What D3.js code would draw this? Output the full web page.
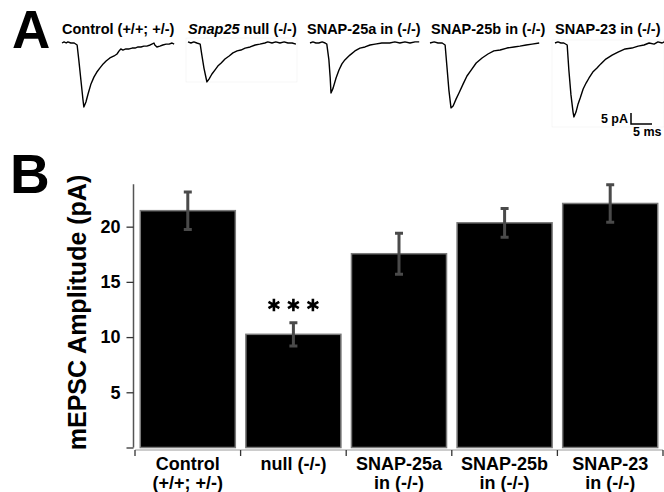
<!DOCTYPE html>
<html>
<head>
<meta charset="utf-8">
<script src="https://cdn.jsdelivr.net/npm/d3@7"></script>
<style>
  body { margin: 0; background: #fff; }
  text { font-family: "Liberation Sans", Arial, Helvetica, sans-serif; font-weight: bold; fill: #000; }
</style>
</head>
<body>
<script>
const width = 664;
const height = 492;

// panel B data
const categories = ["Control", "null", "SNAP-25a", "SNAP-25b", "SNAP-23"];
const categoryLabels = [["Control", "(+/+; +/-)"], ["null (-/-)"], ["SNAP-25a", "in (-/-)"], ["SNAP-25b", "in (-/-)"], ["SNAP-23", "in (-/-)"]];
const means = [21.45, 10.25, 17.55, 20.35, 22.1];
const errors = [1.7, 1.05, 1.85, 1.3, 1.7];
const yTicks = [0, 5, 10, 15, 20];

// panel A example traces, [time ms, current pA]
const traceTitles = ["Control (+/+; +/-)", "Snap25 null (-/-)", "SNAP-25a in (-/-)", "SNAP-25b in (-/-)", "SNAP-23 in (-/-)"];
const traceControl = [[0, 0], [0.5, 0.5], [1.0, 0], [1.4, 0.5], [2.1, 0], [2.9, 0], [3.6, -0.9], [4.0, -7.7], [4.5, -16.8], [5.0, -25.9], [5.2, -29.1], [5.7, -26.8], [6.2, -23.2], [6.9, -18.6], [7.6, -15.5], [8.3, -13.2], [9.0, -11.4], [9.8, -9.5], [10.5, -8.2], [11.4, -6.8], [12.4, -5.9], [13.1, -5.0], [13.6, -3.6], [14.0, -2.7], [14.5, -3.2], [15.2, -2.7], [16.0, -2.7], [16.7, -2.3], [17.4, -2.3], [18.1, -1.8], [18.8, -1.8], [19.5, -1.4], [20.2, -1.4], [21.0, -0.9], [21.4, -0.5], [21.9, 0], [22.1, -0.9], [22.6, -1.8], [23.3, -1.4], [24.0, -0.9], [24.8, -0.5], [25.5, -0.5], [26.2, 0], [26.7, -0.5]];
const traceNull = [[0, 0.5], [0.7, 0], [1.4, 0.5], [2.1, 0], [2.9, -0.5], [3.3, -5.5], [3.8, -11.4], [4.3, -15.9], [4.5, -17.7], [5.0, -16.4], [5.7, -14.1], [6.4, -12.3], [7.1, -10.5], [7.9, -9.1], [8.8, -7.3], [9.8, -5.9], [10.7, -4.5], [11.7, -3.6], [12.6, -3.2], [13.6, -2.3], [14.8, -1.8], [16.0, -0.9], [17.1, -0.5], [18.3, 0], [19.0, 0.5], [20.0, 0], [20.9, 0.5], [21.9, 0], [22.9, 0.5], [23.8, 0], [24.8, 0], [25.7, -0.5]];
const trace25a = [[0, 0], [0.7, 0.5], [1.4, 0], [2.1, 0], [2.9, 0.5], [3.6, 0], [4.0, -0.5], [4.5, -7.7], [4.8, -15.5], [5.0, -22.7], [5.5, -20.5], [6.2, -15.9], [6.9, -12.3], [7.6, -9.5], [8.3, -7.7], [9.5, -5.5], [10.7, -3.6], [11.9, -2.3], [13.1, -1.8], [14.3, -0.9], [15.5, -0.5], [17.1, 0], [19.0, 0], [20.2, 0.5], [21.4, 0], [22.6, 0.5], [23.8, 0], [25.0, 0.5], [26.0, 0.5]];
const trace25b = [[0, 0], [1.0, 0.5], [1.9, 0], [2.9, 0], [3.6, -0.9], [4.0, -10.0], [4.5, -21.4], [5.0, -29.5], [5.5, -28.6], [6.2, -25.5], [6.9, -22.7], [7.9, -18.6], [8.8, -15.0], [9.8, -12.3], [11.0, -9.1], [12.4, -6.8], [13.8, -5.0], [15.2, -3.6], [16.7, -3.2], [18.3, -2.3], [20.0, -1.8], [21.4, -1.4], [22.9, -0.9], [24.3, -0.5], [26.0, 0]];
const trace23 = [[0, 0], [0.7, 0.5], [1.4, 0], [2.1, 0], [2.9, -0.9], [3.3, -12.3], [3.8, -23.6], [4.3, -31.4], [4.5, -33.6], [5.0, -31.4], [5.5, -27.7], [6.0, -25.0], [6.7, -20.9], [7.4, -18.2], [8.1, -15.9], [9.0, -13.2], [10.0, -11.4], [10.9, -9.5], [12.1, -7.3], [13.6, -5.5], [15.0, -4.1], [16.7, -2.7], [18.3, -2.3], [19.8, -1.4], [21.2, -0.9], [22.4, 0], [23.6, -0.5], [24.5, 0.5], [25.5, 0], [26.0, 0.5]];
const traces = [traceControl, traceNull, trace25a, trace25b, trace23];

const traceLeft = [62, 188, 310, 430, 555];
const titleLeft = [62, 188, 307, 431, 555];
const traceBase = 43;

let svg = d3.select("body")
    .append("svg")
    .attr("width", width)
    .attr("height", height);

// ---------- panel A ----------
svg.append("text").attr("x", 12).attr("y", 48).attr("font-size", 53).text("A");

var tScale = d3.scaleLinear().domain([0, 1]).range([0, 4.2]);
var iScale = d3.scaleLinear().domain([0, -5]).range([0, 11]);

var traceLine = d3.line()
    .x(function(d) { return tScale(d[0]); })
    .y(function(d) { return iScale(d[1]); });

// very faint frames left around two of the traces
svg.append("rect").attr("x", 186).attr("y", 38).attr("width", 111).attr("height", 44)
    .attr("fill", "none").attr("stroke", "#f0f0f0").attr("stroke-width", 0.6);
svg.append("rect").attr("x", 552).attr("y", 40).attr("width", 112).attr("height", 87)
    .attr("fill", "none").attr("stroke", "#f0f0f0").attr("stroke-width", 0.6);

traces.forEach(function(tr, i) {
    svg.append("path")
        .attr("transform", "translate(" + traceLeft[i] + "," + traceBase + ")")
        .attr("d", traceLine(tr))
        .attr("fill", "none")
        .attr("stroke", "#000")
        .attr("stroke-width", 1.4)
        .attr("stroke-linejoin", "round");

    var t = svg.append("text")
        .attr("x", titleLeft[i])
        .attr("y", 34)
        .attr("font-size", 14.5);
    if (i == 1) {
        t.append("tspan").attr("font-style", "italic").text("Snap25");
        t.append("tspan").text(" null (-/-)");
    } else {
        t.text(traceTitles[i]);
    }
});

// scale bar 5 pA / 5 ms
var sbX = 631, sbY = 124;
svg.append("path")
    .attr("d", "M" + sbX + "," + (sbY - (iScale(-5))) + "V" + sbY + "H" + (sbX + tScale(5)))
    .attr("fill", "none").attr("stroke", "#000").attr("stroke-width", 1.5);
svg.append("text").attr("x", sbX - 3).attr("y", 123).attr("text-anchor", "end").attr("font-size", 12.5).text("5 pA");
svg.append("text").attr("x", 633).attr("y", 136).attr("font-size", 12.5).text("5 ms");

// ---------- panel B ----------
svg.append("text").attr("x", 10).attr("y", 193).attr("font-size", 55).text("B");

var xScale = d3.scaleBand()
    .domain(categories)
    .range([135, 663])
    .paddingInner(0.1)
    .paddingOuter(0.05);

var yScale = d3.scaleLinear()
    .domain([0, 24])
    .range([447.5, 182.5]);

// y axis
var yAxis = d3.axisLeft(yScale).tickValues(yTicks).tickSize(7).tickSizeOuter(0)
    .tickFormat(function(d) { return d == 0 ? "" : d; });
var gy = svg.append("g").attr("transform", "translate(133.5,0)").call(yAxis);
gy.select(".domain").attr("d", "M0," + yScale(0) + "V" + yScale(23.85))
    .attr("stroke", "#555").attr("stroke-width", 1.5);
gy.selectAll(".tick line").attr("stroke", "#333").attr("stroke-width", 1.3);
gy.selectAll(".tick text")
    .attr("x", -13)
    .attr("font-size", 18)
    .attr("font-family", "Liberation Sans, Arial, sans-serif")
    .attr("font-weight", "bold")
    .attr("fill", "#000");

svg.append("text")
    .attr("transform", "translate(86," + 312.5 + ") rotate(-90)")
    .attr("text-anchor", "middle")
    .attr("font-size", 25)
    .text("mEPSC Amplitude (pA)");

// x axis: ticks at the band edges
var xEdges = categories.map(function(c) { return xScale(c) - xScale.step() * xScale.paddingInner() / 2; });
xEdges.push(xScale.range()[1]);
svg.append("line")
    .attr("x1", xEdges[0]).attr("x2", xEdges[xEdges.length - 1])
    .attr("y1", 450).attr("y2", 450)
    .attr("stroke", "#999").attr("stroke-width", 1);
svg.selectAll(".xtick")
    .data(xEdges)
    .enter()
    .append("line")
    .attr("class", "xtick")
    .attr("x1", function(d) { return d; })
    .attr("x2", function(d) { return d; })
    .attr("y1", 450).attr("y2", 456)
    .attr("stroke", "#333").attr("stroke-width", 1.3);

categoryLabels.forEach(function(lines, i) {
    var cx = xScale(categories[i]) + xScale.bandwidth() / 2;
    lines.forEach(function(s, j) {
        svg.append("text")
            .attr("x", cx)
            .attr("y", 470 + j * 19)
            .attr("text-anchor", "middle")
            .attr("font-size", 18)
            .text(s);
    });
});

// bars
svg.selectAll(".bar")
    .data(means)
    .enter()
    .append("rect")
    .attr("class", "bar")
    .attr("x", function(d, i) { return xScale(categories[i]); })
    .attr("y", function(d) { return yScale(d); })
    .attr("width", xScale.bandwidth())
    .attr("height", function(d) { return yScale(0) - yScale(d); })
    .attr("fill", "#000")
    .attr("stroke", "#7a7a7a")
    .attr("stroke-width", 1.5);

// error bars
var capW = 4;
svg.selectAll(".err")
    .data(means)
    .enter()
    .append("path")
    .attr("class", "err")
    .attr("d", function(d, i) {
        var cx = xScale(categories[i]) + xScale.bandwidth() / 2;
        var top = yScale(d + errors[i]), bot = yScale(d - errors[i]);
        return "M" + cx + "," + top + "V" + bot +
            "M" + (cx - capW) + "," + top + "H" + (cx + capW) +
            "M" + (cx - capW) + "," + bot + "H" + (cx + capW);
    })
    .attr("fill", "none")
    .attr("stroke", "#4a4a4a")
    .attr("stroke-width", 3);

// *** over the null bar
var starCx = xScale("null") + xScale.bandwidth() / 2;
svg.selectAll(".star")
    .data([-1, 0, 1])
    .enter()
    .append("path")
    .attr("class", "star")
    .attr("transform", function(d) { return "translate(" + (starCx + d * 19.5) + ",305)"; })
    .attr("d", d3.symbol(d3.symbolAsterisk, 110))
    .attr("fill", "none")
    .attr("stroke", "#000")
    .attr("stroke-width", 2.6);
</script>
</body>
</html>
